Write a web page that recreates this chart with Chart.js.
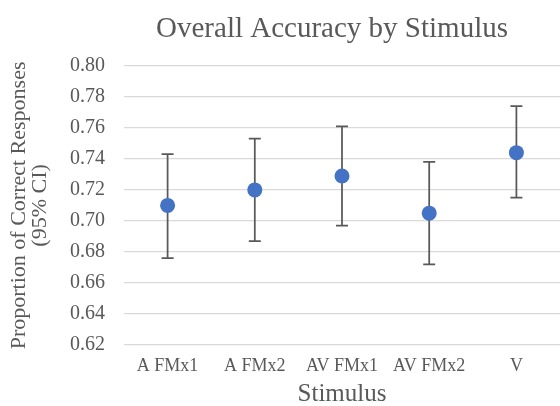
<!DOCTYPE html>
<html>
<head>
<meta charset="utf-8">
<script src="https://cdn.jsdelivr.net/npm/chart.js@4/dist/chart.umd.min.js"></script>
<style>
  html, body { margin: 0; padding: 0; background: #ffffff; }
  #wrap { width: 560px; height: 406px; position: relative; }
</style>
</head>
<body>
<div id="wrap"><canvas id="c" width="560" height="406"></canvas></div>
<script>
const categories = ['A FMx1', 'A FMx2', 'AV FMx1', 'AV FMx2', 'V'];
const means = [0.710, 0.720, 0.729, 0.705, 0.744];
const upperCI = [0.743, 0.753, 0.761, 0.738, 0.774];
const lowerCI = [0.676, 0.687, 0.697, 0.672, 0.715];
const yMin = 0.62;
const yMax = 0.80;
const yStep = 0.02;

const FONT = '"Liberation Serif", "Times New Roman", serif';
const GREY = '#595959';

const errorBars = {
  id: 'errorBars',
  beforeDatasetsDraw(chart) {
    const ctx = chart.ctx;
    const xs = chart.scales.x;
    const ys = chart.scales.y;
    ctx.save();
    ctx.strokeStyle = '#595959';
    ctx.lineWidth = 1.75;
    const cap = 6;
    for (let i = 0; i < categories.length; i++) {
      const x = xs.getPixelForValue(i);
      const yt = ys.getPixelForValue(upperCI[i]);
      const yb = ys.getPixelForValue(lowerCI[i]);
      ctx.beginPath();
      ctx.moveTo(x, yt); ctx.lineTo(x, yb);
      ctx.moveTo(x - cap, yt); ctx.lineTo(x + cap, yt);
      ctx.moveTo(x - cap, yb); ctx.lineTo(x + cap, yb);
      ctx.stroke();
    }
    ctx.restore();
  }
};

const titleShift = {
  id: 'titleShift',
  afterLayout(chart) {
    if (chart.titleBlock) {
      chart.titleBlock.left = chart.chartArea.left - 20;
    }
  }
};

new Chart(document.getElementById('c'), {
  type: 'line',
  data: {
    labels: categories,
    datasets: [{
      data: means,
      showLine: false,
      pointRadius: 7.5,
      pointHoverRadius: 7.5,
      pointBackgroundColor: '#4472C4',
      pointBorderColor: '#4472C4',
      pointBorderWidth: 0
    }]
  },
  options: {
    responsive: false,
    animation: false,
    events: [],
    layout: { padding: 0, autoPadding: false },
    plugins: {
      legend: { display: false },
      tooltip: { enabled: false },
      title: {
        display: true,
        fullSize: false,
        text: 'Overall Accuracy by Stimulus',
        color: GREY,
        font: { family: FONT, size: 29, weight: 'normal', lineHeight: 1.2 },
        padding: { top: 12, bottom: 19 }
      }
    },
    scales: {
      x: {
        type: 'category',
        offset: true,
        grid: { display: false, drawTicks: false },
        border: { display: false },
        ticks: {
          color: GREY,
          font: { family: FONT, size: 18 },
          padding: 10,
          maxRotation: 0,
          autoSkip: false
        },
        title: {
          display: true,
          text: 'Stimulus',
          color: GREY,
          font: { family: FONT, size: 25, lineHeight: 0.9 },
          padding: 0
        },
        afterFit(scale) { scale.height = 61; }
      },
      y: {
        min: yMin,
        max: yMax,
        grid: { color: '#d9d9d9', lineWidth: 1.25, drawTicks: false },
        border: { display: false },
        ticks: {
          stepSize: yStep,
          color: GREY,
          font: { family: FONT, size: 20 },
          padding: 19,
          callback: (v) => Number(v).toFixed(2)
        },
        title: {
          display: true,
          text: ['Proportion of Correct Responses', '(95% CI)'],
          color: GREY,
          font: { family: FONT, size: 22, lineHeight: '21px' },
          padding: { top: 9, bottom: 0 }
        },
        afterFit(scale) { scale.width = 124; }
      }
    }
  },
  plugins: [errorBars, titleShift]
});
</script>
</body>
</html>
